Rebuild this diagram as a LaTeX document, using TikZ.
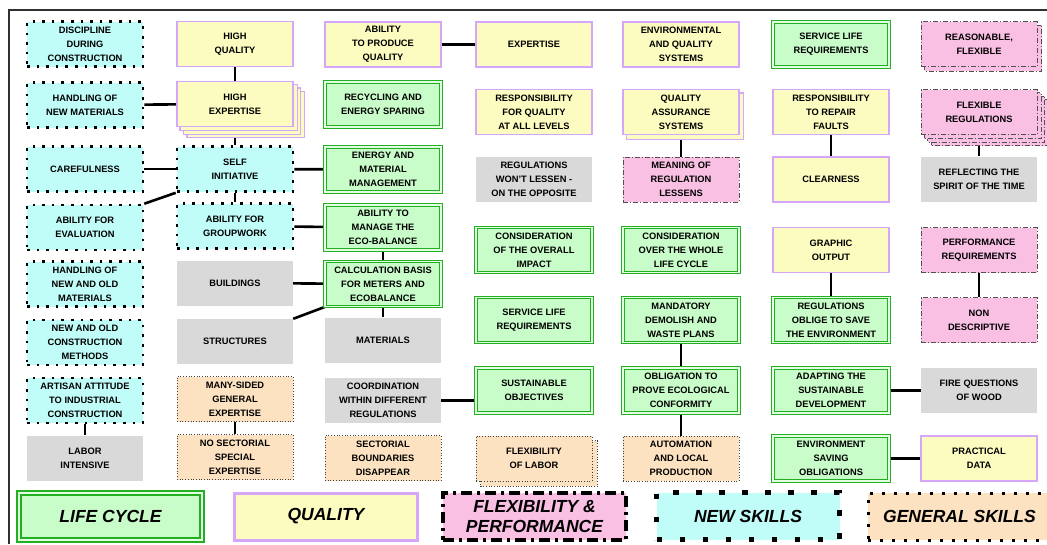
\documentclass[tikz,border=0pt]{standalone}
\usepackage{fontspec}
\setmainfont{Liberation Sans}
\usetikzlibrary{backgrounds}

\definecolor{lifefill}{RGB}{200,252,200}
\definecolor{lifeline}{RGB}{34,176,34}
\definecolor{lifegap}{RGB}{226,253,226}
\definecolor{qualfill}{RGB}{252,252,192}
\definecolor{qualline}{RGB}{214,166,250}
\definecolor{flexfill}{RGB}{250,192,228}
\definecolor{flexline}{RGB}{80,80,80}
\definecolor{skillfill}{RGB}{192,252,248}
\definecolor{genfill}{RGB}{252,226,192}
\definecolor{greyfill}{RGB}{217,217,217}
\definecolor{framegrey}{RGB}{48,48,48}

\newcommand{\boxfont}{\fontsize{9.3}{14}\selectfont\bfseries}
\newcommand{\keyfont}{\fontsize{17.5}{20}\selectfont\bfseries\itshape}

\begin{document}
\begin{tikzpicture}[x=1pt,y=-1pt,conn/.style={line width=2.6pt,-}]
  \tikzstyle{box}=[minimum width=116pt,minimum height=45pt,inner sep=0pt,align=center,font=\boxfont]
  \tikzstyle{key}=[minimum width=183pt,minimum height=47pt,inner sep=0pt,align=center,font=\keyfont]
  \tikzstyle{lifeline}=[fill=lifefill,draw=lifeline,double=lifegap,line width=1.2pt,double distance=1.3pt]
  \tikzstyle{qualline}=[fill=qualfill,draw=qualline,line width=1.4pt]
  \tikzstyle{flexline}=[fill=flexfill,draw=flexline,line width=1pt,dash pattern=on 5pt off 2pt on 1pt off 2pt]
  \tikzstyle{skillline}=[fill=skillfill,draw=black,line width=2.6pt,dash pattern=on 2.6pt off 7pt]
  \tikzstyle{genline}=[fill=genfill,draw=black!75,line width=0.9pt,dash pattern=on 0.9pt off 1.8pt]
  \tikzstyle{lifecycle}=[box,lifeline]
  \tikzstyle{quality}=[box,qualline]
  \tikzstyle{flexperf}=[box,flexline]
  \tikzstyle{newskill}=[box,skillline]
  \tikzstyle{general}=[box,genline]
  \tikzstyle{neutral}=[box,fill=greyfill]

  \useasboundingbox (0,0) rectangle (1047,544);
  \draw[framegrey,line width=2.2pt] (9,544) -- (9,10) -- (1047,10);

  \node[newskill] (A1) at (85,44)    {DISCIPLINE\\DURING\\CONSTRUCTION};
  \node[newskill] (A2) at (85,105)   {HANDLING OF\\NEW MATERIALS};
  \node[newskill] (A3) at (85,169)   {CAREFULNESS};
  \node[newskill] (A4) at (85,227.5) {ABILITY FOR\\EVALUATION};
  \node[newskill] (A5) at (85,284)   {HANDLING OF\\NEW AND OLD\\MATERIALS};
  \node[newskill] (A6) at (85,342.5) {NEW AND OLD\\CONSTRUCTION\\METHODS};
  \node[newskill] (A7) at (85,400.5) {ARTISAN ATTITUDE\\TO INDUSTRIAL\\CONSTRUCTION};
  \node[neutral]  (A8) at (85,458)   {LABOR\\INTENSIVE};

  \node[quality]  (B1) at (235,44)    {HIGH\\QUALITY};
  \node[quality]  (B2) at (235,104)   {HIGH\\EXPERTISE};
  \node[newskill] (B3) at (235,169)   {SELF\\INITIATIVE};
  \node[newskill] (B4) at (235,226)   {ABILITY FOR\\GROUPWORK};
  \node[neutral]  (B5) at (235,283)   {BUILDINGS};
  \node[neutral]  (B6) at (235,341.5) {STRUCTURES};
  \node[general]  (B7) at (235,399)   {MANY-SIDED\\GENERAL\\EXPERTISE};
  \node[general]  (B8) at (235,457)   {NO SECTORIAL\\SPECIAL\\EXPERTISE};

  \node[quality]   (C1) at (383,44.5)  {ABILITY\\TO PRODUCE\\QUALITY};
  \node[lifecycle] (C2) at (383,104.5) {RECYCLING AND\\ENERGY SPARING};
  \node[lifecycle] (C3) at (383,169.5) {ENERGY AND\\MATERIAL\\MANAGEMENT};
  \node[lifecycle] (C4) at (383,227.5) {ABILITY TO\\MANAGE THE\\ECO-BALANCE};
  \node[lifecycle] (C5) at (383,284)   {CALCULATION BASIS\\FOR METERS AND\\ECOBALANCE};
  \node[neutral]   (C6) at (383,340)   {MATERIALS};
  \node[neutral]   (C7) at (383,400.5) {COORDINATION\\WITHIN DIFFERENT\\REGULATIONS};
  \node[general]   (C8) at (383,458)   {SECTORIAL\\BOUNDARIES\\DISAPPEAR};

  \node[quality]   (D1) at (534,44.5)  {EXPERTISE};
  \node[quality]   (D2) at (534,112)   {RESPONSIBILITY\\FOR QUALITY\\AT ALL LEVELS};
  \node[neutral]   (D3) at (534,179)   {REGULATIONS\\WON'T LESSEN -\\ON THE OPPOSITE};
  \node[lifecycle] (D4) at (534,250)   {CONSIDERATION\\OF THE OVERALL\\IMPACT};
  \node[lifecycle] (D5) at (534,320)   {SERVICE LIFE\\REQUIREMENTS};
  \node[lifecycle] (D6) at (534,390.5) {SUSTAINABLE\\OBJECTIVES};
  \node[general]   (D7) at (534,458.5) {FLEXIBILITY\\OF LABOR};

  \node[quality]   (E1) at (681,44.5)  {ENVIRONMENTAL\\AND QUALITY\\SYSTEMS};
  \node[quality]   (E2) at (681,112)   {QUALITY\\ASSURANCE\\SYSTEMS};
  \node[flexperf]  (E3) at (681,179.5) {MEANING OF\\REGULATION\\LESSENS};
  \node[lifecycle] (E4) at (681,250)   {CONSIDERATION\\OVER THE WHOLE\\LIFE CYCLE};
  \node[lifecycle] (E5) at (681,320)   {MANDATORY\\DEMOLISH AND\\WASTE PLANS};
  \node[lifecycle] (E6) at (681,390.5) {OBLIGATION TO\\PROVE ECOLOGICAL\\CONFORMITY};
  \node[general]   (E7) at (681,458.5) {AUTOMATION\\AND LOCAL\\PRODUCTION};

  \node[lifecycle] (F1) at (831,44.5)  {SERVICE LIFE\\REQUIREMENTS};
  \node[quality]   (F2) at (831,112)   {RESPONSIBILITY\\TO REPAIR\\FAULTS};
  \node[quality]   (F3) at (831,179.5) {CLEARNESS};
  \node[quality]   (F4) at (831,250)   {GRAPHIC\\OUTPUT};
  \node[lifecycle] (F5) at (831,320)   {REGULATIONS\\OBLIGE TO SAVE\\THE ENVIRONMENT};
  \node[lifecycle] (F6) at (831,390.5) {ADAPTING THE\\SUSTAINABLE\\DEVELOPMENT};
  \node[lifecycle] (F7) at (831,458.5) {ENVIRONMENT\\SAVING\\OBLIGATIONS};

  \node[flexperf] (G1) at (979,44)    {REASONABLE,\\FLEXIBLE};
  \node[flexperf] (G2) at (979,112)   {FLEXIBLE\\REGULATIONS};
  \node[neutral]  (G3) at (979,179)   {REFLECTING THE\\SPIRIT OF THE TIME};
  \node[flexperf] (G4) at (979,250)   {PERFORMANCE\\REQUIREMENTS};
  \node[flexperf] (G5) at (979,320)   {NON\\DESCRIPTIVE};
  \node[neutral]  (G6) at (979,390.5) {FIRE QUESTIONS\\OF WOOD};
  \node[quality]  (G7) at (979,458.5) {PRACTICAL\\DATA};

  \node[key,lifeline,line width=2.2pt,double distance=1.6pt] (L1) at (110.5,516.5) {LIFE CYCLE};
  \node[key,qualline,line width=3pt] (L2) at (326,516.5) {QUALITY};
  \node[key,flexline,draw=black,line width=3.5pt,dash pattern=on 11pt off 5pt on 3pt off 5pt] (L3) at (534.5,516.5) {FLEXIBILITY \&\\PERFORMANCE};
  \node[key,skillline,line width=5.5pt,dash pattern=on 5.5pt off 17.5pt] (L4) at (748,516) {NEW SKILLS};
  \node[key,genline,draw=black,line width=3pt,dash pattern=on 3pt off 9pt] (L5) at (959.5,516.5) {GENERAL SKILLS};

  \begin{scope}[on background layer]
    \path[conn] (B1) edge (B2)
                (A2) edge (B2)
                (B2) edge (B3)
                (A3) edge (B3)
                (B3.south west) edge (A4.north east)
                (B3) edge (C3)
                (B3) edge (B4)
                (B4) edge (C4)
                (B5) edge (C5)
                (B6.north east) edge (C5.south west)
                (C4) edge (C5)
                (C5) edge (C6)
                (C1) edge (D1)
                (C7.east) edge (C7.east -| D6.west)
                (E2) edge (E3)
                (E5) edge (E6)
                (E6) edge (E7)
                (F2) edge (F3)
                (F4) edge (F5)
                (F6) edge (G6)
                (F7) edge (G7)
                (G2) edge (G3)
                (G4) edge (G5)
                (A7) edge (A8)
                (B7) edge (B8);
  \end{scope}

  \begin{scope}[on background layer]
    \foreach \s in {3,2,1}
      \draw[qualline] ([shift={(3.5*\s,3.5*\s)}]B2.north west) rectangle ([shift={(3.5*\s,3.5*\s)}]B2.south east);
    \foreach \s in {3,2,1}
      \draw[flexline] ([shift={(3.5*\s,3.5*\s)}]G2.north west) rectangle ([shift={(3.5*\s,3.5*\s)}]G2.south east);
    \draw[qualline] ([shift={(4,4)}]E2.north west) rectangle ([shift={(4,4)}]E2.south east);
    \draw[flexline] ([shift={(4,4)}]G1.north west) rectangle ([shift={(4,4)}]G1.south east);
    \draw[genline] ([shift={(5,5)}]D7.north west) rectangle ([shift={(5,5)}]D7.south east);
  \end{scope}
\end{tikzpicture}
\end{document}
